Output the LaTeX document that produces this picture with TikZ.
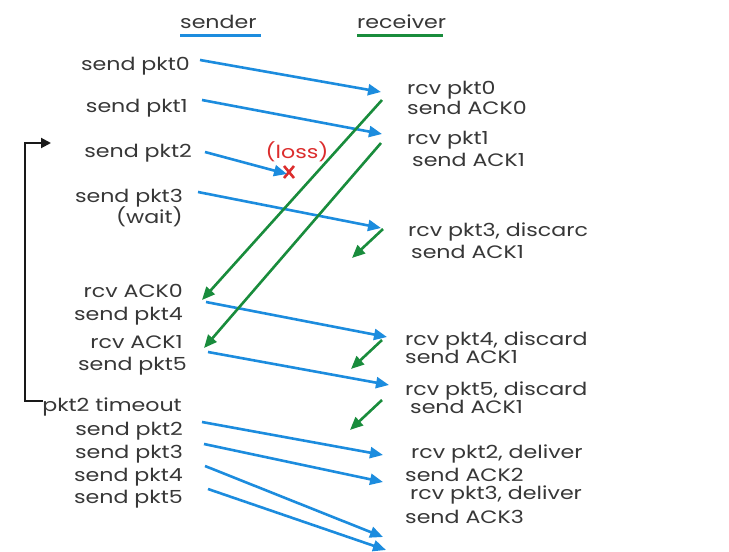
\documentclass[tikz,border=0pt]{standalone}
\usepackage{fontspec}
\setmainfont{Poppins}[FakeStretch=1.23]
\usetikzlibrary{arrows.meta,calc}
\definecolor{sblue}{RGB}{28,140,222}
\definecolor{rgreen}{RGB}{25,140,60}
\definecolor{lossred}{RGB}{220,45,45}
\definecolor{txt}{RGB}{55,55,55}
\begin{document}
\begin{tikzpicture}[x=1pt,y=-1pt,
  lbl/.style={font=\fontsize{18}{18}\selectfont, text=txt, inner sep=0pt},
  snd/.style={lbl, anchor=base east},
  rcvl/.style={lbl, anchor=base west},
  pktarrow/.style={draw=sblue, line width=2.6pt, -{Triangle[length=13pt,width=11pt]}},
  ackarrow/.style={draw=rgreen, line width=2.6pt, -{Triangle[length=13pt,width=11pt]}},
  uline/.style={line width=3pt},
]
\useasboundingbox[fill=white] (0,0) rectangle (729,552);

% headers
\node[rcvl] (hs) at (180,28) {sender};
\node[rcvl] (hr) at (357,28) {receiver};
\draw[uline, sblue] (180,35) -- (261,35);
\draw[uline, rgreen] (357,35) -- (443,35);

% sender labels
\node[snd] (s0) at (190,70) {send pkt0};
\node[snd] (s1) at (188,112) {send pkt1};
\node[snd] (s2) at (192,157) {send pkt2};
\node[snd] (s3) at (183,202) {send pkt3};
\node[snd] (sw) at (183,223) {(wait)};
\node[snd] (a0) at (183,297) {rcv ACK0};
\node[snd] (s4) at (183,320) {send pkt4};
\node[snd] (a1) at (183,348) {rcv ACK1};
\node[snd] (s5) at (187,370) {send pkt5};
\node[snd] (to) at (182,411) {pkt2 timeout};
\node[snd] (r2) at (183,435) {send pkt2};
\node[snd] (r3) at (183,458) {send pkt3};
\node[snd] (r4) at (183,481) {send pkt4};
\node[snd] (r5) at (183,503) {send pkt5};

% receiver labels (clipped at right like the reference)
\begin{scope}
\clip (300,0) rectangle (588,552);
\node[rcvl] (q0) at (407,94) {rcv pkt0};
\node[rcvl] (k0) at (407,114) {send ACK0};
\node[rcvl] (q1) at (407,144) {rcv pkt1};
\node[rcvl] (k1) at (412,166) {send ACK1};
\node[rcvl] (q3) at (408,236) {rcv pkt3, discarc};
\node[rcvl] (k3) at (411,258) {send ACK1};
\node[rcvl] (q4) at (405,345) {rcv pkt4, discard};
\node[rcvl] (k4) at (405,363) {send ACK1};
\node[rcvl] (q5) at (405,395) {rcv pkt5, discard};
\node[rcvl] (k5) at (410,413) {send ACK1};
\node[rcvl] (d2) at (411,458) {rcv pkt2, deliver};
\node[rcvl] (e2) at (405,481) {send ACK2};
\node[rcvl] (d3) at (410,499) {rcv pkt3, deliver};
\node[rcvl] (e3) at (405,523) {send ACK3};
\end{scope}

% loss
\node[lbl, text=lossred, anchor=base] (loss) at (297,158) {(loss)};
\coordinate (xc) at (289,172);
\draw[lossred, line width=2.6pt] ($(xc)+(-5,-6)$) -- ($(xc)+(5,6)$);
\draw[lossred, line width=2.6pt] ($(xc)+(5,-6)$) -- ($(xc)+(-5,6)$);

% arrow end points
\coordinate (p0s) at (200,60);  \coordinate (p0e) at (381,92);
\coordinate (p1s) at (202,100); \coordinate (p1e) at (382,134);
\coordinate (p2s) at (205,152); \coordinate (p2e) at (287,174);
\coordinate (p3s) at (198,192); \coordinate (p3e) at (381,228);
\coordinate (p4s) at (206,302); \coordinate (p4e) at (387,337);
\coordinate (p5s) at (208,352); \coordinate (p5e) at (389,385);
\coordinate (q2s) at (202,422); \coordinate (q2e) at (383,455);
\coordinate (q3s) at (204,444); \coordinate (q3e) at (383,482);
\coordinate (q4s) at (205,466); \coordinate (q4e) at (383,537);
\coordinate (q5s) at (208,489); \coordinate (q5e) at (386,550);

\coordinate (c0s) at (382,100); \coordinate (c0e) at (202,300);
\coordinate (c1s) at (381,143); \coordinate (c1e) at (204,348);
\coordinate (c3s) at (383,229); \coordinate (c3e) at (352,258);
\coordinate (c4s) at (382,340); \coordinate (c4e) at (351,369);
\coordinate (c5s) at (382,400); \coordinate (c5e) at (350,430);

\draw[pktarrow] (p0s) -- (p0e);
\draw[pktarrow] (p1s) -- (p1e);
\draw[pktarrow] (p2s) -- (p2e);
\draw[pktarrow] (p3s) -- (p3e);
\draw[pktarrow] (p4s) -- (p4e);
\draw[pktarrow] (p5s) -- (p5e);
\draw[pktarrow] (q2s) -- (q2e);
\draw[pktarrow] (q3s) -- (q3e);
\draw[pktarrow] (q4s) -- (q4e);
\draw[pktarrow] (q5s) -- (q5e);

\draw[ackarrow] (c0s) -- (c0e);
\draw[ackarrow] (c1s) -- (c1e);
\draw[ackarrow] (c3s) -- (c3e);
\draw[ackarrow] (c4s) -- (c4e);
\draw[ackarrow] (c5s) -- (c5e);

% timeout bracket
\coordinate (tb) at (43,401);
\coordinate (tt) at (51,143);
\draw[line width=2pt, black!90, -{Triangle[length=10pt,width=10pt]}]
  (tb) -- (25,401) -- (25,143) -- (tt);
\end{tikzpicture}
\end{document}
